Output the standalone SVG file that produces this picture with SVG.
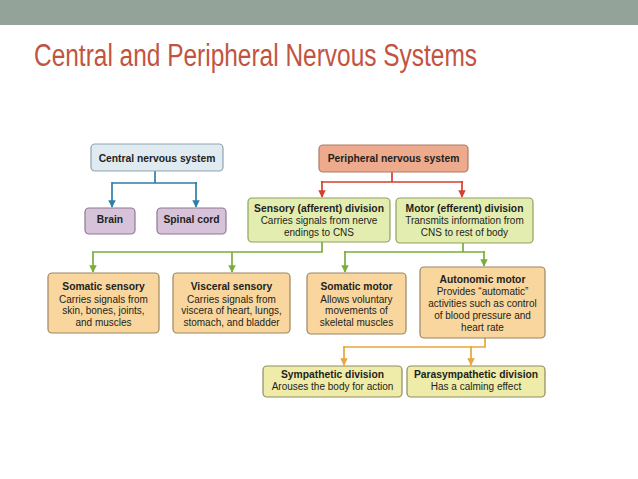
<svg xmlns="http://www.w3.org/2000/svg" width="638" height="479" viewBox="0 0 638 479">
<defs>
<style>
.t{font-family:"Liberation Sans",Arial,sans-serif;font-size:10px;fill:#231f20;text-anchor:middle}
.b{font-weight:bold;font-size:10.3px}
.box{stroke-width:1.2}
.cns{fill:#dfeaf1;stroke:#8fa3af}
.pur{fill:#d6c3da;stroke:#8c7b8f}
.pns{fill:#eeaa8c;stroke:#b07a66}
.grn{fill:#e3edb0;stroke:#8fa060}
.org{fill:#f8d69e;stroke:#9c8663}
.yel{fill:#efeba8;stroke:#8e8c62}
.c{fill:none;stroke-width:1.7}
</style>
<marker id="ab" viewBox="0 0 10 10" refX="9" refY="5" markerWidth="4.4" markerHeight="4.4" orient="auto" markerUnits="strokeWidth"><path d="M0,0 L10,5 L0,10 z" fill="#2f7ea7"/></marker>
<marker id="ar" viewBox="0 0 10 10" refX="9" refY="5" markerWidth="4.4" markerHeight="4.4" orient="auto" markerUnits="strokeWidth"><path d="M0,0 L10,5 L0,10 z" fill="#d4402f"/></marker>
<marker id="ag" viewBox="0 0 10 10" refX="9" refY="5" markerWidth="4.4" markerHeight="4.4" orient="auto" markerUnits="strokeWidth"><path d="M0,0 L10,5 L0,10 z" fill="#7aae3a"/></marker>
<marker id="ao" viewBox="0 0 10 10" refX="9" refY="5" markerWidth="4.4" markerHeight="4.4" orient="auto" markerUnits="strokeWidth"><path d="M0,0 L10,5 L0,10 z" fill="#eaa43b"/></marker>
</defs>
<rect x="0" y="0" width="638" height="479" fill="#ffffff"/>
<rect x="0" y="0" width="638" height="25" fill="#93a39a"/>
<text x="34" y="66" font-family="'Liberation Sans',Arial,sans-serif" font-size="31" fill="#c2543f" textLength="443" lengthAdjust="spacingAndGlyphs">Central and Peripheral Nervous Systems</text>

<g id="connectors">
<path class="c" stroke="#2f7ea7" d="M155,171 V183 M112,183 H197" />
<path class="c" stroke="#2f7ea7" d="M112,182 V207" marker-end="url(#ab)"/>
<path class="c" stroke="#2f7ea7" d="M196,182 V207" marker-end="url(#ab)"/>
<path class="c" stroke="#d4402f" d="M392,172 V182 M321,182 H463"/>
<path class="c" stroke="#d4402f" d="M322,181 V197" marker-end="url(#ar)"/>
<path class="c" stroke="#d4402f" d="M462,181 V197" marker-end="url(#ar)"/>
<path class="c" stroke="#7aae3a" d="M322,242 V252 H92"/>
<path class="c" stroke="#7aae3a" d="M93,252 V272" marker-end="url(#ag)"/>
<path class="c" stroke="#7aae3a" d="M232,252 V272" marker-end="url(#ag)"/>
<path class="c" stroke="#7aae3a" d="M463,243 V252 M344,252 H485"/>
<path class="c" stroke="#7aae3a" d="M345,251 V272" marker-end="url(#ag)"/>
<path class="c" stroke="#7aae3a" d="M484,251 V266" marker-end="url(#ag)"/>
<path class="c" stroke="#eaa43b" d="M485,338 V347 H343"/>
<path class="c" stroke="#eaa43b" d="M344,346 V365" marker-end="url(#ao)"/>
<path class="c" stroke="#eaa43b" d="M471,346 V365" marker-end="url(#ao)"/>
</g>

<g id="cns">
<rect class="box cns" x="91" y="144" width="132" height="27" rx="4"/>
<text class="t b" x="157" y="162">Central nervous system</text>
</g>
<g id="brain">
<rect class="box pur" x="85" y="208" width="50" height="26" rx="4"/>
<text class="t b" x="110" y="223">Brain</text>
</g>
<g id="spinal">
<rect class="box pur" x="157" y="208" width="69" height="26" rx="4"/>
<text class="t b" x="191.5" y="223">Spinal cord</text>
</g>
<g id="pns">
<rect class="box pns" x="319" y="145" width="149" height="27" rx="4"/>
<text class="t b" x="393.5" y="162">Peripheral nervous system</text>
</g>
<g id="sensory">
<rect class="box grn" x="248" y="198" width="142" height="44" rx="4"/>
<text class="t b" x="319" y="212">Sensory (afferent) division</text>
<text class="t" x="319" y="224">Carries signals from nerve</text>
<text class="t" x="319" y="235.5">endings to CNS</text>
</g>
<g id="motor">
<rect class="box grn" x="396" y="198" width="137" height="45" rx="4"/>
<text class="t b" x="464.5" y="212">Motor (efferent) division</text>
<text class="t" x="464.5" y="224">Transmits information from</text>
<text class="t" x="464.5" y="235.5">CNS to rest of body</text>
</g>
<g id="somsens">
<rect class="box org" x="48" y="273" width="111" height="60" rx="4"/>
<text class="t b" x="103.5" y="290">Somatic sensory</text>
<text class="t" x="103.5" y="302.5">Carries signals from</text>
<text class="t" x="103.5" y="314">skin, bones, joints,</text>
<text class="t" x="103.5" y="326">and muscles</text>
</g>
<g id="viscsens">
<rect class="box org" x="173" y="273" width="117" height="60" rx="4"/>
<text class="t b" x="231.5" y="290">Visceral sensory</text>
<text class="t" x="231.5" y="302.5">Carries signals from</text>
<text class="t" x="231.5" y="314">viscera of heart, lungs,</text>
<text class="t" x="231.5" y="326">stomach, and bladder</text>
</g>
<g id="sommotor">
<rect class="box org" x="307" y="273" width="99" height="61" rx="4"/>
<text class="t b" x="356.5" y="289.5">Somatic motor</text>
<text class="t" x="356.5" y="302.5">Allows voluntary</text>
<text class="t" x="356.5" y="314">movements of</text>
<text class="t" x="356.5" y="326">skeletal muscles</text>
</g>
<g id="automotor">
<rect class="box org" x="420" y="267" width="125" height="71" rx="4"/>
<text class="t b" x="482.5" y="283">Autonomic motor</text>
<text class="t" x="482.5" y="295">Provides “automatic”</text>
<text class="t" x="482.5" y="307">activities such as control</text>
<text class="t" x="482.5" y="319">of blood pressure and</text>
<text class="t" x="482.5" y="331">heart rate</text>
</g>
<g id="symp">
<rect class="box yel" x="263" y="366" width="139" height="31" rx="4"/>
<text class="t b" x="332.5" y="377.5">Sympathetic division</text>
<text class="t" x="332.5" y="390">Arouses the body for action</text>
</g>
<g id="parasymp">
<rect class="box yel" x="407" y="366" width="138" height="31" rx="4"/>
<text class="t b" x="476" y="377.5">Parasympathetic division</text>
<text class="t" x="476" y="390">Has a calming effect</text>
</g>
</svg>
